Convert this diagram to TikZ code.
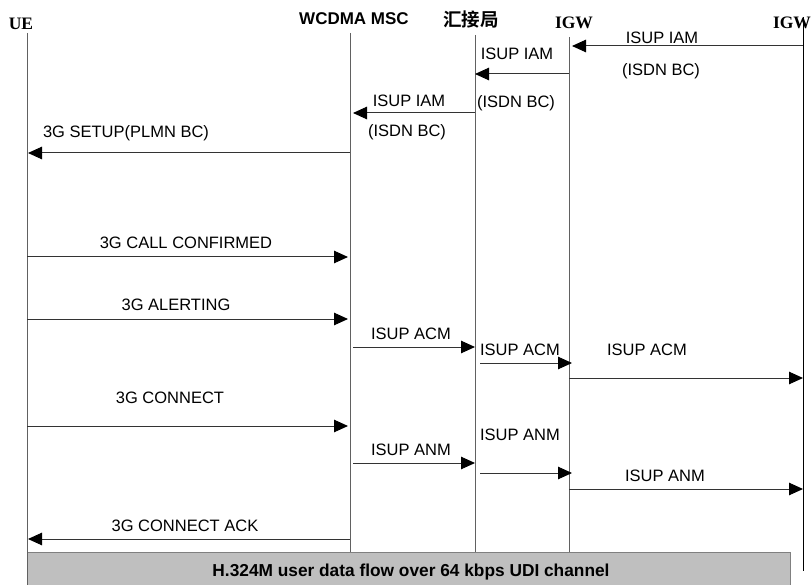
\documentclass[tikz,border=0pt]{standalone}
\usepackage{fontspec}
\setmainfont{Liberation Sans}
\newfontfamily\timesbf{Liberation Serif}[BoldFont={Liberation Serif Bold}]
\newfontfamily\cjkbf{Noto Sans CJK SC Bold}
\usetikzlibrary{arrows.meta}

\begin{document}
\begin{tikzpicture}[x=1pt,y=-1pt,
  life/.style={draw=black!62, line width=1pt},
  msg/.style={draw=black!80, line width=1pt,
    -{Triangle[length=14pt,width=12.5pt,color=black]}},
  lbl/.style={inner sep=0pt, font=\fontsize{16.5}{19}\selectfont},
  hdrserif/.style={inner sep=0pt, font=\fontsize{17.5}{19}\timesbf\bfseries},
  hdrsans/.style={inner sep=0pt, font=\fontsize{17}{19}\selectfont\bfseries},
  hdrcjk/.style={inner sep=0pt, font=\fontsize{18.5}{20}\cjkbf},
  flow/.style={draw=black!50, fill=black!25, line width=1pt}]
\useasboundingbox (0,0) rectangle (811,585);

% lifeline positions
\coordinate (ue)   at (27,0);
\coordinate (msc)  at (350,0);
\coordinate (tdm)  at (475,0);
\coordinate (igw)  at (569,0);
\coordinate (igwr) at (803,0);

% headers
\node[hdrserif] (hUE)   at (21,23.5) {UE};
\node[hdrsans]  (hMSC)  at (354,18.5) {WCDMA MSC};
\node[hdrcjk]   (hTDM)  at (471,19.5) {汇接局};
\node[hdrserif] (hIGW)  at (574,23) {IGW};
\node[hdrserif] (hIGWR) at (792,23) {IGW};

% data flow bar
\node[flow, minimum width=763pt, minimum height=40pt, inner sep=0pt,
      anchor=north west] (bar) at (27,552) {};
\node[lbl, font=\fontsize{17.3}{19}\selectfont\bfseries] (barText) at (411,572)
  {H.324M user data flow over 64 kbps UDI channel};

% lifelines
\draw[life] (ue |- 0,33)   -- (ue |- 0,585);
\draw[life] (msc |- 0,33)  -- (msc |- bar.north);
\draw[life] (tdm |- 0,35)  -- (tdm |- bar.north);
\draw[life] (igw |- 0,37)  -- (igw |- bar.north);
\draw[draw=black, line width=1pt] (igwr |- 0,17) -- (igwr |- 0,571);

% call setup
\draw[msg] (igwr |- 0,46) -- ([xshift=3pt]igw |- 0,46);
\node[lbl] (l1a) at (662,37.5) {ISUP IAM};
\node[lbl] (l1b) at (661,71) {(ISDN BC)};

\draw[msg] (igw |- 0,74) -- (tdm |- 0,74);
\node[lbl] (l2a) at (517,53.5) {ISUP IAM};
\node[lbl] (l2b) at (516,103) {(ISDN BC)};

\draw[msg] (tdm |- 0,113) -- ([xshift=3pt]msc |- 0,113);
\node[lbl] (l3a) at (409,100.5) {ISUP IAM};
\node[lbl] (l3b) at (407,132) {(ISDN BC)};

\draw[msg] (msc |- 0,153) -- ([xshift=1pt]ue |- 0,153);
\node[lbl] (l4) at (126,133) {3G SETUP(PLMN BC)};

\draw[msg] (ue |- 0,257) -- ([xshift=-2pt]msc |- 0,257);
\node[lbl] (l5) at (186,243) {3G CALL CONFIRMED};

\draw[msg] (ue |- 0,319) -- ([xshift=-2pt]msc |- 0,319);
\node[lbl] (l6) at (176,305) {3G ALERTING};

% alerting
\draw[msg] ([xshift=3pt]msc |- 0,347) -- (tdm |- 0,347);
\node[lbl] (l7) at (411,334) {ISUP ACM};

\draw[msg] ([xshift=5pt]tdm |- 0,363) -- ([xshift=3pt]igw |- 0,363);
\node[lbl] (l8) at (520,349.5) {ISUP ACM};

\draw[msg] (igw |- 0,378) -- (igwr |- 0,378);
\node[lbl] (l9) at (647,349.5) {ISUP ACM};

% answer
\draw[msg] (ue |- 0,426) -- ([xshift=-2pt]msc |- 0,426);
\node[lbl] (l10) at (170,397.5) {3G CONNECT};

\draw[msg] ([xshift=3pt]msc |- 0,463) -- (tdm |- 0,463);
\node[lbl] (l11) at (411,450) {ISUP ANM};

\draw[msg] ([xshift=5pt]tdm |- 0,473) -- ([xshift=3pt]igw |- 0,473);
\node[lbl] (l12) at (520,434.5) {ISUP ANM};

\draw[msg] (igw |- 0,489) -- (igwr |- 0,489);
\node[lbl] (l13) at (665,476) {ISUP ANM};

\draw[msg] (msc |- 0,539) -- ([xshift=1pt]ue |- 0,539);
\node[lbl] (l14) at (185,526) {3G CONNECT ACK};
\end{tikzpicture}
\end{document}
